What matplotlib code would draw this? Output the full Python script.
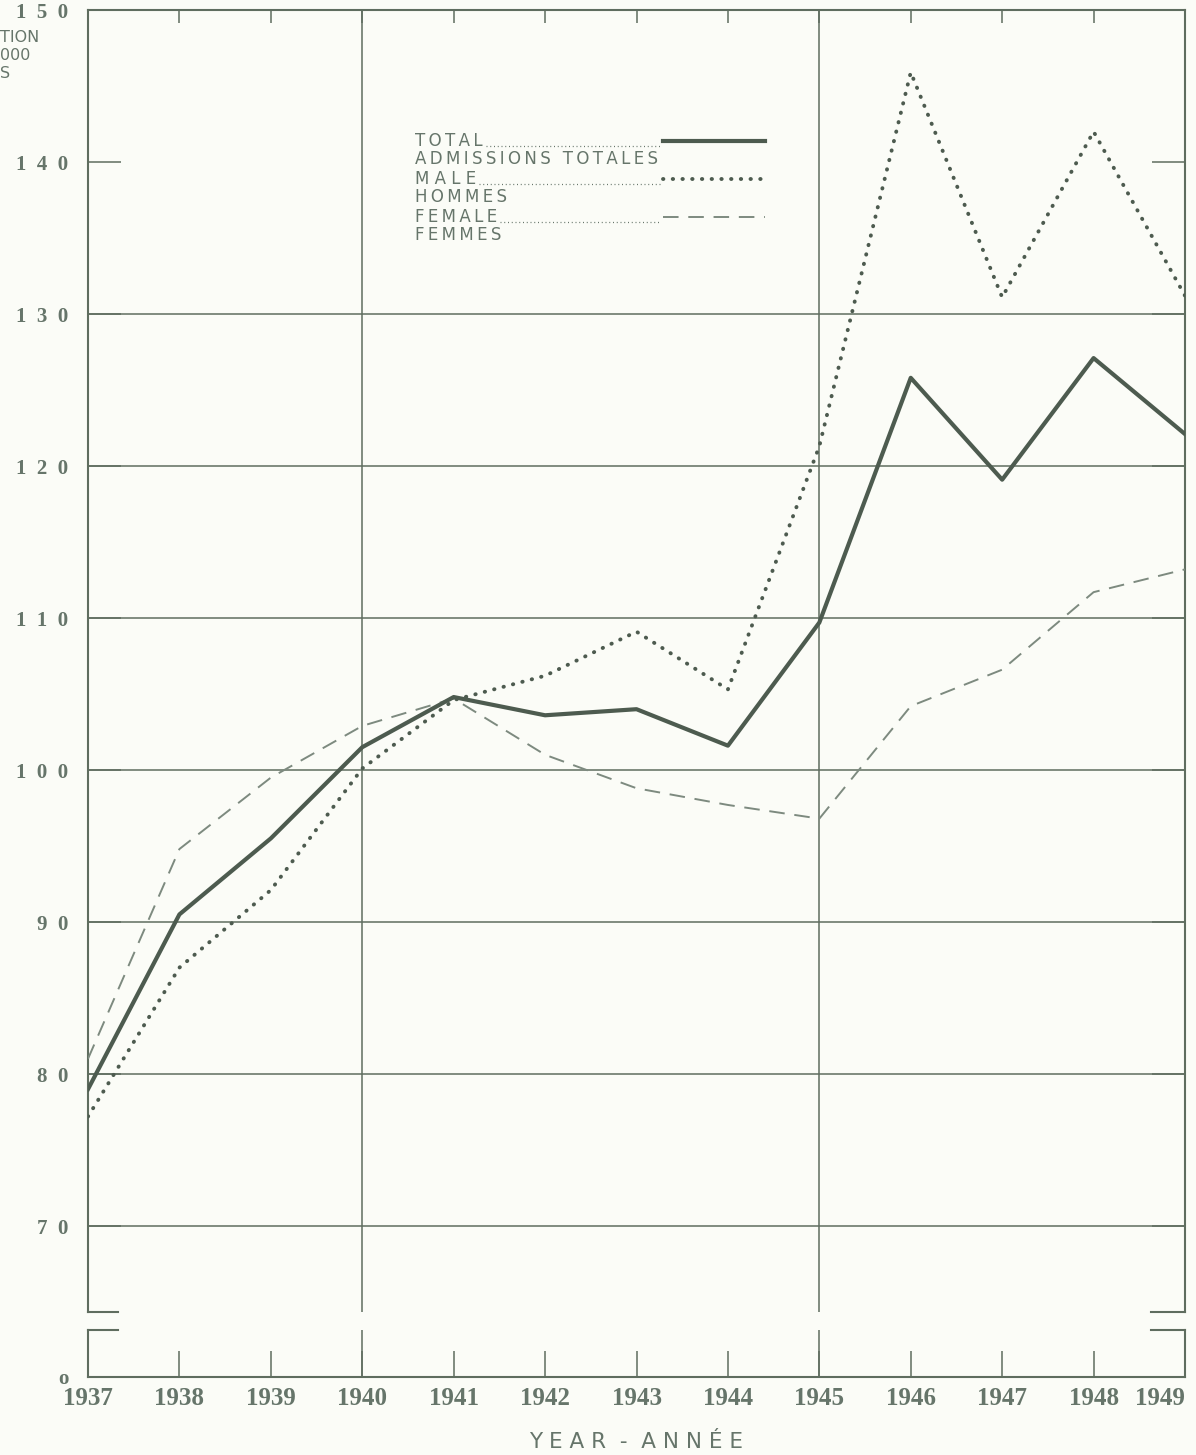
import matplotlib.pyplot as plt

# Datos (tasa por 100 000)
years = [1937, 1938, 1939, 1940, 1941, 1942, 1943, 1944, 1945, 1946, 1947, 1948, 1949]
total = [79.0, 90.5, 95.5, 101.5, 104.8, 103.6, 104.0, 101.6, 109.7, 125.8, 119.1, 127.1, 122.1]
male = [77.2, 87.0, 92.1, 100.1, 104.6, 106.2, 109.1, 105.3, 121.3, 145.9, 131.1, 142.0, 131.2]
female = [81.0, 94.8, 99.5, 102.9, 104.7, 101.0, 98.8, 97.7, 96.8, 104.2, 106.6, 111.7, 113.2]

y_ticks = [70, 80, 90, 100, 110, 120, 130, 140, 150]
y_labels = ['7 0', '8 0', '9 0', '1 0 0', '1 1 0', '1 2 0', '1 3 0', '1 4 0', '1 5 0']
grid_y = [70, 80, 90, 100, 110, 120, 130]
grid_x = [1940, 1945]

bg = '#fbfcf7'
axc = '#5f6d5f'
txt = '#66756a'
dark = '#4d5b4f'
light = '#7d8a7f'

fig = plt.figure(figsize=(11.96, 14.55), dpi=100, facecolor=bg)
left, width = 88 / 1196, 1097 / 1196
ax = fig.add_axes([left, 1 - 1312 / 1455, width, 1302 / 1455], facecolor=bg)
axb = fig.add_axes([left, 1 - 1377 / 1455, width, 47 / 1455], facecolor=bg)

# panel superior
ax.set_xlim(1937, 1949)
ax.set_ylim(150 - 1302 / 15.2, 150)
for y in grid_y:
    ax.axhline(y, color=axc, lw=1.1, zorder=1)
for x in grid_x:
    ax.axvline(x, color=axc, lw=1.1, zorder=1)
    axb.axvline(x, color=axc, lw=1.1, zorder=1)

ax.plot(years, female, color=light, lw=1.4, linestyle=(0, (8, 5)), zorder=3)
ax.plot(years, male, color=dark, lw=2.8, linestyle=(0, (0.1, 2.4)),
        dash_capstyle='round', solid_capstyle='round', zorder=3)
ax.plot(years, total, color=dark, lw=3.0, zorder=4)

ax.set_yticks(y_ticks)
ax.set_yticklabels([l.replace(' ', '  ') for l in y_labels],
                   family='Liberation Serif', fontsize=15, color=txt,
                   fontweight='bold')
ax.tick_params(axis='y', direction='in', length=24, width=1.1, color=axc,
               right=True, pad=14)
ax.set_xticks(years)
ax.tick_params(axis='x', direction='in', length=9, width=1.1, color=axc,
               top=True, bottom=False, labelbottom=False)
for s in ['left', 'right', 'top']:
    ax.spines[s].set_color(axc)
    ax.spines[s].set_linewidth(1.5)
ax.spines['bottom'].set_visible(False)
# marques de coupure
ax.plot([0, 0.027], [0, 0], transform=ax.transAxes, color=axc, lw=1.5, clip_on=False)
ax.plot([0.969, 1], [0, 0], transform=ax.transAxes, color=axc, lw=1.5, clip_on=False)

# panel inferior (cero)
axb.set_xlim(1937, 1949)
axb.set_ylim(0, 47 / 15.2)
axb.set_yticks([0])
axb.set_yticklabels(['o'], family='Liberation Serif', fontsize=15, color=txt,
                    fontweight='bold')
axb.tick_params(axis='y', length=0, pad=14)
axb.set_xticks(years)
axb.set_xticklabels([str(y) for y in years], family='Liberation Serif',
                    fontsize=18, fontweight='bold', color=txt)
axb.get_xticklabels()[-1].set_horizontalalignment('right')
axb.tick_params(axis='x', direction='in', length=19, width=1.1, color=axc, pad=7)
axb.spines['top'].set_visible(False)
for s in ['left', 'right', 'bottom']:
    axb.spines[s].set_color(axc)
    axb.spines[s].set_linewidth(1.5)
axb.plot([0, 0.027], [1, 1], transform=axb.transAxes, color=axc, lw=1.5, clip_on=False)
axb.plot([0.969, 1], [1, 1], transform=axb.transAxes, color=axc, lw=1.5, clip_on=False)

axb.set_xlabel('Y E A R  -  A N N É E', fontsize=15.5, color=txt, labelpad=16,
               family='DejaVu Sans')


def spaced(word, sep):
    return sep.join(word)


# leyenda dibujada a mano
lx0, lx1, lx2 = (415 - 88) / 1097, (660 - 88) / 1097, (765 - 88) / 1097
def ly(py):
    return 1 - (py - 10) / 1302

legend = [('TOTAL', 'ADMISSIONS TOTALES', '\u2009',
           dict(lw=3.0, color=dark, linestyle='-'), 141),
          ('MALE', 'HOMMES', ' ',
           dict(lw=2.8, color=dark, linestyle=(0, (0.1, 2.4)), dash_capstyle='round'), 179),
          ('FEMALE', 'FEMMES', '\u2009',
           dict(lw=1.4, color=light, linestyle=(0, (8, 5))), 217)]
tops = []
for top, bottom, sep, style, py in legend:
    t = ax.text(lx0, ly(py + 5), spaced(top, sep), transform=ax.transAxes,
                fontsize=12, color=txt, va='baseline', ha='left')
    tops.append((t, py))
    ax.text(lx0, ly(py + 9), spaced(bottom, '\u2009'), transform=ax.transAxes,
            fontsize=12, color=txt, va='top', ha='left')
    ax.plot([lx1 + 0.003, lx2], [ly(py), ly(py)], transform=ax.transAxes, **style)

# pointillés de renvoi après chaque mot
fig.canvas.draw()
inv = ax.transAxes.inverted()
for t, py in tops:
    bb = t.get_window_extent()
    xend = inv.transform((bb.x1 + 3, bb.y0))[0]
    ax.plot([xend, lx1], [ly(py + 5), ly(py + 5)], transform=ax.transAxes,
            color=txt, lw=0.9, linestyle=(0, (0.8, 2.2)))

# texte coupé en haut à gauche
fig.text(0, 1 - 38 / 1455, 'TION', fontsize=11.5, color=txt, va='center', ha='left')
fig.text(0, 1 - 56 / 1455, '000', fontsize=11.5, color=txt, va='center', ha='left')
fig.text(0, 1 - 73 / 1455, 'S', fontsize=11.5, color=txt, va='center', ha='left')

fig.savefig('out.png', dpi=100, facecolor=bg)
